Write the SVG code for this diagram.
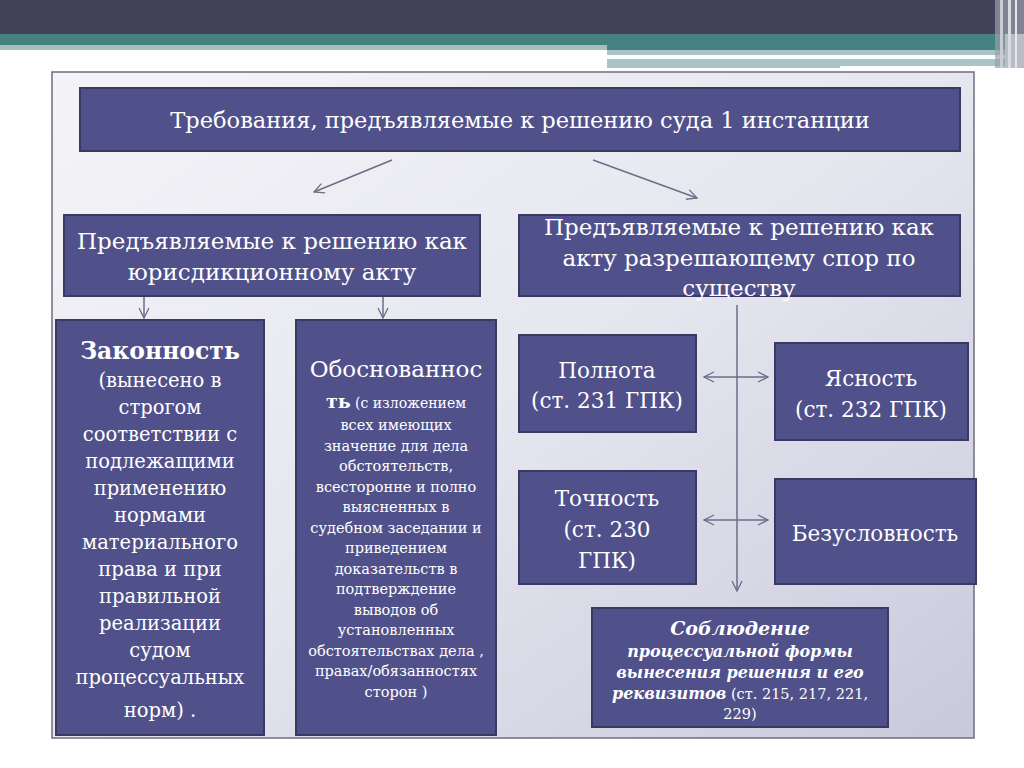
<svg xmlns="http://www.w3.org/2000/svg" width="1024" height="768" viewBox="0 0 1024 768">
<defs>
<linearGradient id="panel" x1="0" y1="0" x2="1" y2="1">
<stop offset="0" stop-color="#f4f4f8"/>
<stop offset="0.5" stop-color="#e6e6ef"/>
<stop offset="1" stop-color="#c9c9dd"/>
</linearGradient>
<marker id="ah" viewBox="0 0 12 12" refX="11" refY="6" markerWidth="12" markerHeight="12" markerUnits="userSpaceOnUse" orient="auto-start-reverse">
<path d="M1,1 L11,6 L1,11" fill="none" stroke="#6c6c88" stroke-width="1.3"/>
</marker>
<style>
.box{fill:#50508a;stroke:#3a3a60;stroke-width:2}
.t{font-family:"DejaVu Serif","Liberation Serif",serif;fill:#ffffff;text-anchor:middle}
.c{stroke:#6c6c88;stroke-width:1.5;fill:none}
</style>
</defs>
<rect x="0" y="0" width="1024" height="768" fill="#ffffff"/>
<!-- header bands -->
<rect x="0" y="0" width="1024" height="34" fill="#434157"/>
<rect x="0" y="34" width="1005" height="11" fill="#458181"/>
<rect x="0" y="45" width="607" height="5" fill="#a9bec0"/>
<rect x="607" y="45" width="398" height="5" fill="#458181"/>
<rect x="607" y="50" width="398" height="5" fill="#a9c4c6"/>
<rect x="607" y="55" width="361" height="4" fill="#ffffff"/>
<rect x="607" y="59" width="398" height="9" fill="#a9c4c6"/>
<rect x="840" y="66" width="165" height="2" fill="#ffffff"/>
<rect x="995" y="0" width="29" height="68" fill="#9aa0ac" opacity="0.7"/>
<rect x="1000" y="0" width="3" height="68" fill="#c8ccd4"/>
<rect x="1008" y="0" width="3" height="68" fill="#d8dce2"/>
<rect x="1015" y="0" width="2" height="68" fill="#e4e6ea"/>
<!-- panel -->
<rect x="52" y="72" width="922" height="666" fill="url(#panel)" stroke="#6e6e7e" stroke-width="1.5"/>

<g id="title">
<rect class="box" x="80" y="88" width="880" height="63"/>
<text class="t" x="520" y="128" font-size="22.5">Требования, предъявляемые к решению суда 1 инстанции</text>
</g>
<g id="jurisdiction">
<rect class="box" x="64" y="215" width="416" height="81"/>
<text class="t" x="272" y="249" font-size="23">Предъявляемые к решению как</text>
<text class="t" x="272" y="280" font-size="23">юрисдикционному акту</text>
</g>
<g id="dispute">
<rect class="box" x="519" y="215" width="441" height="81"/>
<text class="t" x="739" y="235" font-size="23">Предъявляемые к решению как</text>
<text class="t" x="739" y="266" font-size="23">акту разрешающему спор по</text>
<text class="t" x="739" y="296" font-size="23">существу</text>
</g>
<g id="legality">
<rect class="box" x="56" y="320" width="208" height="415"/>
<text class="t" x="160" y="359" font-size="23.5" font-weight="bold">Законность</text>
<g font-size="19.5">
<text class="t" x="160" y="387">(вынесено в</text>
<text class="t" x="160" y="414">строгом</text>
<text class="t" x="160" y="441">соответствии с</text>
<text class="t" x="160" y="468">подлежащими</text>
<text class="t" x="160" y="495">применению</text>
<text class="t" x="160" y="522">нормами</text>
<text class="t" x="160" y="549">материального</text>
<text class="t" x="160" y="576">права и при</text>
<text class="t" x="160" y="603">правильной</text>
<text class="t" x="160" y="630">реализации</text>
<text class="t" x="160" y="657">судом</text>
<text class="t" x="160" y="684">процессуальных</text>
<text class="t" x="160" y="717">норм) .</text>
</g>
</g>
<g id="validity">
<rect class="box" x="296" y="320" width="200" height="415"/>
<text class="t" x="396" y="377" font-size="23">Обоснованнос</text>
<text class="t" x="396" y="408"><tspan font-size="19" font-weight="bold">ть</tspan><tspan font-size="14"> (с изложением</tspan></text>
<g font-size="14.5">
<text class="t" x="396" y="430">всех имеющих</text>
<text class="t" x="396" y="451">значение для дела</text>
<text class="t" x="396" y="471">обстоятельств,</text>
<text class="t" x="396" y="492">всесторонне и полно</text>
<text class="t" x="396" y="512">выясненных в</text>
<text class="t" x="396" y="533">судебном заседании и</text>
<text class="t" x="396" y="553">приведением</text>
<text class="t" x="396" y="574">доказательств в</text>
<text class="t" x="396" y="594">подтверждение</text>
<text class="t" x="396" y="615">выводов об</text>
<text class="t" x="396" y="635">установленных</text>
<text class="t" x="396" y="656">обстоятельствах дела ,</text>
<text class="t" x="396" y="676">правах/обязанностях</text>
<text class="t" x="396" y="697">сторон )</text>
</g>
</g>
<g id="completeness">
<rect class="box" x="519" y="335" width="177" height="97"/>
<text class="t" x="607" y="378" font-size="21.5">Полнота</text>
<text class="t" x="607" y="408" font-size="21.5">(ст. 231 ГПК)</text>
</g>
<g id="clarity">
<rect class="box" x="775" y="343" width="193" height="97"/>
<text class="t" x="871" y="386" font-size="21.5">Ясность</text>
<text class="t" x="871" y="417" font-size="21.5">(ст. 232 ГПК)</text>
</g>
<g id="accuracy">
<rect class="box" x="519" y="471" width="177" height="113"/>
<text class="t" x="607" y="506" font-size="21.5">Точность</text>
<text class="t" x="607" y="537" font-size="21.5">(ст. 230</text>
<text class="t" x="607" y="568" font-size="21.5">ГПК)</text>
</g>
<g id="unconditional">
<rect class="box" x="775" y="479" width="201" height="105"/>
<text class="t" x="875" y="541" font-size="21.5">Безусловность</text>
</g>
<g id="procedure">
<rect class="box" x="592" y="608" width="296" height="119"/>
<text class="t" x="740" y="635" font-size="19" font-weight="bold" font-style="italic">Соблюдение</text>
<g font-size="16" font-weight="bold" font-style="italic">
<text class="t" x="740" y="657">процессуальной формы</text>
<text class="t" x="740" y="678">вынесения решения  и его</text>
<text class="t" x="740" y="699">реквизитов<tspan font-weight="normal" font-style="normal" font-size="14.5">  (ст. 215, 217, 221,</tspan></text>
</g>
<text class="t" x="740" y="719" font-size="14.5">229)</text>
</g>
<g id="connectors">
<line class="c" x1="392" y1="160" x2="314" y2="192" marker-end="url(#ah)"/>
<line class="c" x1="593" y1="160" x2="697" y2="198" marker-end="url(#ah)"/>
<line class="c" x1="144" y1="297" x2="144" y2="318" marker-end="url(#ah)"/>
<line class="c" x1="383" y1="297" x2="383" y2="318" marker-end="url(#ah)"/>
<line class="c" x1="737" y1="305" x2="737" y2="591" marker-end="url(#ah)"/>
<line class="c" x1="704" y1="377" x2="768" y2="377" marker-start="url(#ah)" marker-end="url(#ah)"/>
<line class="c" x1="704" y1="520" x2="768" y2="520" marker-start="url(#ah)" marker-end="url(#ah)"/>
</g>
</svg>
